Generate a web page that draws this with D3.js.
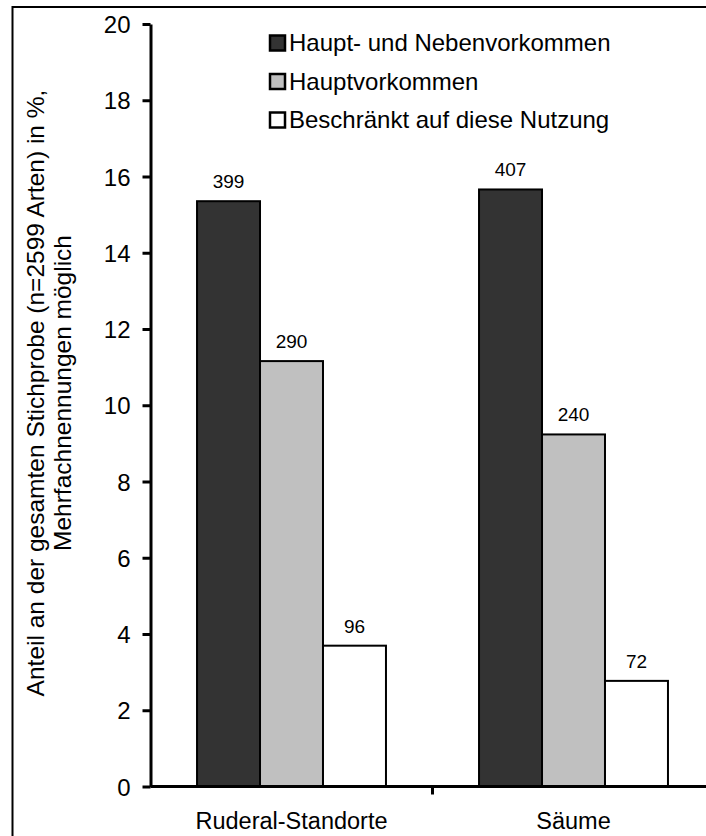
<!DOCTYPE html>
<html>
<head>
<meta charset="utf-8">
<script src="https://cdn.jsdelivr.net/npm/d3@7/dist/d3.min.js"></script>
<style>
  html, body { margin: 0; padding: 0; background: #fff; }
  svg { display: block; font-family: Arial, "Liberation Sans", sans-serif; }
</style>
</head>
<body>
<svg id="chart" width="706" height="836"></svg>
<script>
// Nutzungstypen und Anzahl der Arten je Kategorie (n = 2599 Arten)
const categories = ["Ruderal-Standorte", "Säume"];
const seriesNames = ["Haupt- und Nebenvorkommen", "Hauptvorkommen", "Beschränkt auf diese Nutzung"];
const seriesColors = ["#333333", "#c0c0c0", "#ffffff"];
const counts = {
  "Haupt- und Nebenvorkommen": [399, 407],
  "Hauptvorkommen": [290, 240],
  "Beschränkt auf diese Nutzung": [96, 72]
};
const totalSpecies = 2599;
const yTicks = [0, 2, 4, 6, 8, 10, 12, 14, 16, 18, 20];

const svg = d3.select("#chart");

// Rahmen um die Grafik
svg.append("rect")
  .attr("x", 12.5).attr("y", 7)
  .attr("width", 720).attr("height", 860)
  .attr("fill", "none").attr("stroke", "#000").attr("stroke-width", 2);

const y = d3.scaleLinear().domain([0, 20]).range([786.5, 24]);

const x0 = d3.scaleBand()
  .domain(categories)
  .range([150.5, 714.5])
  .paddingInner(0.33)
  .paddingOuter(0.165);

const x1 = d3.scaleBand()
  .domain(seriesNames)
  .range([0, x0.bandwidth()]);

// Daten: Anteil in % aus der Artenzahl
const rows = categories.map((c, i) => ({
  category: c,
  values: seriesNames.map(s => ({
    series: s,
    count: counts[s][i],
    pct: counts[s][i] / totalSpecies * 100
  }))
}));

// Balken
const groups = svg.append("g").selectAll("g")
  .data(rows).join("g")
  .attr("transform", d => `translate(${x0(d.category)},0)`);

groups.selectAll("rect")
  .data(d => d.values).join("rect")
  .attr("x", d => x1(d.series))
  .attr("y", d => y(d.pct))
  .attr("width", x1.bandwidth())
  .attr("height", d => y(0) - y(d.pct))
  .attr("fill", d => seriesColors[seriesNames.indexOf(d.series)])
  .attr("stroke", "#000")
  .attr("stroke-width", 2);

// Werte über den Balken
groups.selectAll("text")
  .data(d => d.values).join("text")
  .attr("x", d => x1(d.series) + x1.bandwidth() / 2)
  .attr("y", d => y(d.pct) - 13)
  .attr("text-anchor", "middle")
  .attr("font-size", 19)
  .text(d => d.count);

// y-Achse
const yAxis = svg.append("g")
  .attr("transform", "translate(150.5,0)")
  .call(d3.axisLeft(y).tickValues(yTicks).tickSize(8).tickSizeOuter(0).tickPadding(12));
yAxis.select(".domain").attr("stroke-width", 3);
yAxis.selectAll(".tick line").attr("stroke-width", 3);
yAxis.selectAll(".tick text").attr("font-size", 24).attr("font-family", null).attr("dy", "0.36em");

// x-Achse mit Trennstrichen zwischen den Kategorien
const xAxisY = y(0);
svg.append("line")
  .attr("x1", 150.5).attr("x2", 714.5)
  .attr("y1", xAxisY).attr("y2", xAxisY)
  .attr("stroke", "#000").attr("stroke-width", 3);
const boundaries = categories.slice(1).map(c => x0(c) - x0.step() * x0.paddingInner() / 2);
svg.selectAll(".xtick").data(boundaries).join("line")
  .attr("class", "xtick")
  .attr("x1", d => d).attr("x2", d => d)
  .attr("y1", xAxisY).attr("y2", xAxisY + 8)
  .attr("stroke", "#000").attr("stroke-width", 3);
svg.selectAll(".xlabel").data(categories).join("text")
  .attr("class", "xlabel")
  .attr("x", d => x0(d) + x0.bandwidth() / 2)
  .attr("y", 829)
  .attr("text-anchor", "middle")
  .attr("font-size", 23.5)
  .text(d => d);

// Achsentitel (zweizeilig, gedreht)
const titleLines = ["Anteil an der gesamten Stichprobe (n=2599 Arten) in %,", "Mehrfachnennungen möglich"];
svg.append("g")
  .attr("transform", "translate(0,393) rotate(-90)")
  .selectAll("text").data(titleLines).join("text")
  .attr("x", 0)
  .attr("y", (d, i) => 44 + i * 27)
  .attr("text-anchor", "middle")
  .attr("font-size", 24.5)
  .text(d => d);

// Legende
const legend = svg.append("g").selectAll("g")
  .data(seriesNames).join("g")
  .attr("transform", (d, i) => `translate(270,${43 + i * 38.5})`);
legend.append("rect")
  .attr("x", 0).attr("y", -7.5)
  .attr("width", 15).attr("height", 15)
  .attr("fill", (d, i) => seriesColors[i])
  .attr("stroke", "#000").attr("stroke-width", 2.5);
legend.append("text")
  .attr("x", 19).attr("y", 0).attr("dy", "0.35em")
  .attr("font-size", 24)
  .text(d => d);
</script>
</body>
</html>
